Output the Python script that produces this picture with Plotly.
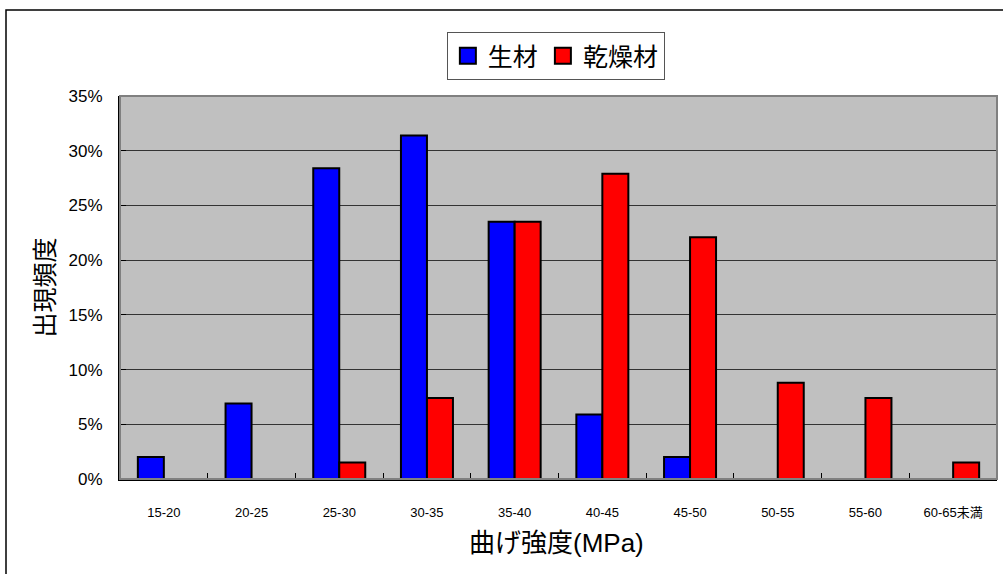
import plotly.graph_objects as go

categories = ["15-20", "20-25", "25-30", "30-35", "35-40", "40-45", "45-50", "50-55", "55-60", "60-65未満"]
green_wood = [2.0, 6.9, 28.4, 31.4, 23.5, 5.9, 2.0, 0, 0, 0]      # 生材 (%)
dried_wood = [0, 0, 1.5, 7.4, 23.5, 27.9, 22.1, 8.8, 7.4, 1.5]    # 乾燥材 (%)
series_names = ["生材", "乾燥材"]
series_colors = ["#0000FF", "#FF0000"]
y_ticks = [0, 5, 10, 15, 20, 25, 30, 35]
y_tick_labels = [f"{v}%" for v in y_ticks]

FONT = "'Liberation Sans', Arial, 'Noto Sans CJK JP', sans-serif"

fig = go.Figure()
for name, vals, col in zip(series_names, [green_wood, dried_wood], series_colors):
    fig.add_trace(go.Bar(
        x=categories, y=vals, name=name, showlegend=False,
        marker=dict(color=col, line=dict(color="black", width=2)),
    ))
# legend swatches
for name, col in zip(series_names, series_colors):
    fig.add_trace(go.Scatter(
        x=[None], y=[None], mode="markers", name=name,
        marker=dict(symbol="square", size=16, color=col, line=dict(color="black", width=2)),
    ))

L, R, T, B = 120, 6, 96, 95
W, H = 1003, 574
pw, ph = W - L - R, H - T - B

def px(x):
    return (x - L) / pw

def py(y):
    return (H - B - y) / ph

fig.update_layout(
    width=W, height=H,
    margin=dict(l=L, r=R, t=T, b=B),
    paper_bgcolor="white",
    plot_bgcolor="#C0C0C0",
    barmode="group",
    bargap=0.407,
    bargroupgap=0,
    font=dict(family=FONT, color="black"),
    showlegend=True,
    legend=dict(
        orientation="h",
        x=0.497, xanchor="center",
        y=py(32), yanchor="top",
        bgcolor="white",
        bordercolor="#555555", borderwidth=1,
        font=dict(size=25, family=FONT),
        itemsizing="trace",
        tracegroupgap=0,
    ),
    xaxis=dict(
        type="category",
        showline=True, linecolor="black", linewidth=2,
        ticks="inside", ticklen=6, tickcolor="black", tickwidth=1,
        tickson="boundaries",
        showgrid=False,
        tickfont=dict(size=13, family=FONT),
        ticklabelstandoff=20,
        fixedrange=True,
    ),
    yaxis=dict(
        range=[0, 35],
        tickmode="array",
        tickvals=y_ticks,
        ticktext=y_tick_labels,
        showline=True, linecolor="black", linewidth=2,
        ticks="inside", ticklen=6, tickcolor="black",
        showgrid=True, gridcolor="#333333", gridwidth=1,
        zeroline=False,
        tickfont=dict(size=17, family=FONT),
        ticklabelstandoff=12,
        fixedrange=True,
    ),
    shapes=[
        # plot area border (top/right gray)
        dict(type="rect", xref="paper", yref="paper", x0=0, x1=1, y0=0, y1=1,
             line=dict(color="#808080", width=2), layer="above"),
        # outer chart border
        dict(type="rect", xref="paper", yref="paper",
             x0=px(6), x1=px(1012), y0=py(585), y1=py(10),
             line=dict(color="black", width=1.5)),
    ],
    annotations=[
        dict(text="出現頻度", xref="paper", yref="paper", x=px(44), y=0.5,
             textangle=-90, showarrow=False, font=dict(size=25, family=FONT),
             xanchor="center", yanchor="middle"),
        dict(text="曲げ強度(MPa)", xref="paper", yref="paper", x=px(556), y=py(543),
             showarrow=False, font=dict(size=26, family=FONT),
             xanchor="center", yanchor="middle"),
    ],
)
fig.update_xaxes(layer="above traces")
fig.update_yaxes(layer="above traces")

fig.write_html("out.html")
